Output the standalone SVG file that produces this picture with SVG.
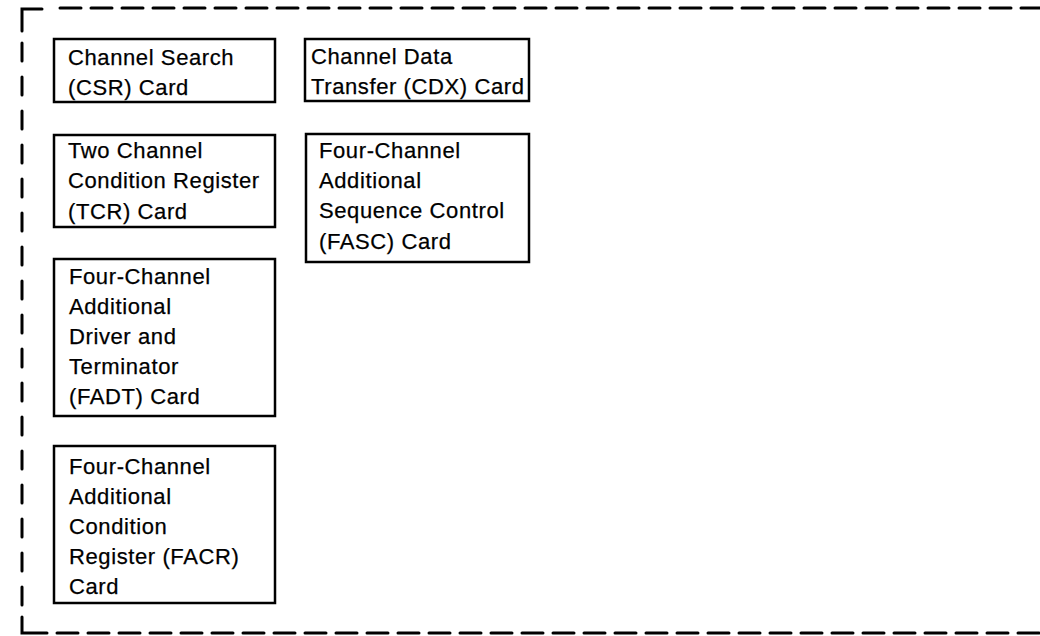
<svg xmlns="http://www.w3.org/2000/svg" width="1040" height="636" viewBox="0 0 1040 636">
  <style>
    .frame { fill: none; stroke: #000; stroke-width: 3; stroke-linecap: round; }
    .dash { stroke-dasharray: 21 10; }
    .vdash { stroke-dasharray: 18 16; }
    .card { fill: #fff; stroke: #000; stroke-width: 2.5; }
    .label { font-family: "Liberation Sans", Arial, sans-serif; font-size: 22px; letter-spacing: 0.6px; fill: #000; stroke: #000; stroke-width: 0.25; }
  </style>
  <rect width="1040" height="636" fill="#fff"/>

  <!-- dashed enclosure, open on the right -->
  <g id="enclosure">
    <path class="frame" d="M22,31 L22,9 L42,9"/>
    <path class="frame dash" d="M60,8 L1040,8"/>
    <path class="frame vdash" d="M22,43 L22,606"/>
    <path class="frame" d="M22,617 L22,633 L47,633"/>
    <path class="frame dash" d="M57,633 L1040,633"/>
  </g>

  <g id="connectors"></g>

  <g id="csr">
    <rect class="card" x="54" y="39" width="221" height="63"/>
    <text class="label" x="68" y="65">Channel Search</text>
    <text class="label" x="68" y="95">(CSR) Card</text>
  </g>

  <g id="cdx">
    <rect class="card" x="305" y="39" width="224" height="62"/>
    <text class="label" x="311" y="64">Channel Data</text>
    <text class="label" x="311" y="94">Transfer (CDX) Card</text>
  </g>

  <g id="tcr">
    <rect class="card" x="54" y="135" width="221" height="92"/>
    <text class="label" x="68" y="158">Two Channel</text>
    <text class="label" x="68" y="188">Condition Register</text>
    <text class="label" x="68" y="219">(TCR) Card</text>
  </g>

  <g id="fasc">
    <rect class="card" x="306" y="134" width="223" height="128"/>
    <text class="label" x="319" y="158">Four-Channel</text>
    <text class="label" x="319" y="188">Additional</text>
    <text class="label" x="319" y="218">Sequence Control</text>
    <text class="label" x="319" y="249">(FASC) Card</text>
  </g>

  <g id="fadt">
    <rect class="card" x="54" y="259" width="221" height="157"/>
    <text class="label" x="69" y="284">Four-Channel</text>
    <text class="label" x="69" y="314">Additional</text>
    <text class="label" x="69" y="344">Driver and</text>
    <text class="label" x="69" y="374">Terminator</text>
    <text class="label" x="69" y="404">(FADT) Card</text>
  </g>

  <g id="facr">
    <rect class="card" x="54" y="446" width="221" height="157"/>
    <text class="label" x="69" y="474">Four-Channel</text>
    <text class="label" x="69" y="504">Additional</text>
    <text class="label" x="69" y="534">Condition</text>
    <text class="label" x="69" y="564">Register (FACR)</text>
    <text class="label" x="69" y="594">Card</text>
  </g>
</svg>
